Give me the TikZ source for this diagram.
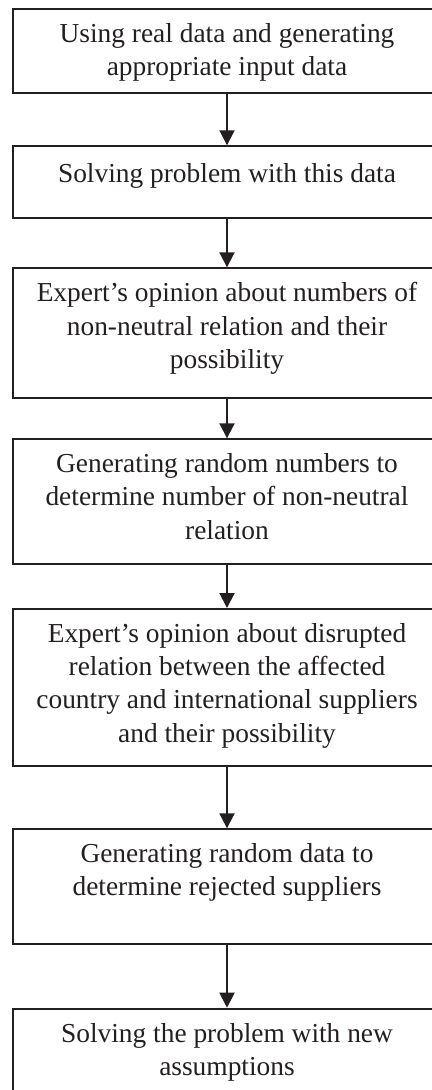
\documentclass[tikz,border=0pt]{standalone}
\usepackage{fontspec}
\setmainfont{Liberation Serif}
\usepackage{tikz}
\usetikzlibrary{arrows.meta,positioning}
\definecolor{flowink}{RGB}{35,31,32}
\tikzset{
    stage box/.style  = {draw=flowink, line width=1pt, rectangle, minimum width=214.3pt, inner sep=0pt},
    stage text/.style = {text=flowink, align=center, inner sep=0pt, anchor=north,
                         font=\fontsize{13.7pt}{16.6pt}\selectfont,
                         execute at begin node={\rule{0pt}{11pt}}},
    flow arrow/.style = {->, draw=flowink, line width=1pt}
}

\begin{document}
\begin{tikzpicture}[>={Triangle[width=7.5pt,length=7.5pt]}]
	\useasboundingbox (0,0) rectangle (216pt,-545pt);
	\clip (0,0) rectangle (216pt,-545pt);
		% boxes
		\node[stage box, minimum height=41.7pt, anchor=north] (b1) at (113.5pt,-4.15pt) {};
		\node[stage box, minimum height=35.85pt, below=25.8pt of b1] (b2) {};
		\node[stage box, minimum height=65pt, below=24.15pt of b2] (b3) {};
		\node[stage box, minimum height=62.2pt, below=19.5pt of b3] (b4) {};
		\node[stage box, minimum height=78.35pt, below=21.65pt of b4] (b5) {};
		\node[stage box, minimum height=57.5pt, below=30.8pt of b5] (b6) {};
		\node[stage box, minimum height=57.5pt, below=31.2pt of b6] (b7) {};
		% texts
		\begin{scope}[every node/.style={stage text}]
			\node (t1) at ([yshift=-7.5pt]b1.north) {Using real data and generating\\appropriate input data};
			\node (t2) at ([yshift=-7.5pt]b2.north) {Solving problem with this data};
			\node (t3) at ([yshift=-7.5pt]b3.north) {Expert’s opinion about numbers of\\non-neutral relation and their\\possibility};
			\node (t4) at ([yshift=-7.5pt]b4.north) {Generating random numbers to\\determine number of non-neutral\\relation};
			\node (t5) at ([yshift=-7.5pt]b5.north) {Expert’s opinion about disrupted\\relation between the affected\\country and international suppliers\\and their possibility};
			\node (t6) at ([yshift=-7.5pt]b6.north) {Generating random data to\\determine rejected suppliers};
			\node (t7) at ([yshift=-7.5pt]b7.north) {Solving the problem with new\\assumptions};
		\end{scope}
		% arrows
		\foreach \a/\b in {b1/b2,b2/b3,b3/b4,b4/b5,b5/b6,b6/b7}
			\draw[flow arrow] (\a) -- (\b);
\end{tikzpicture}
\end{document}
